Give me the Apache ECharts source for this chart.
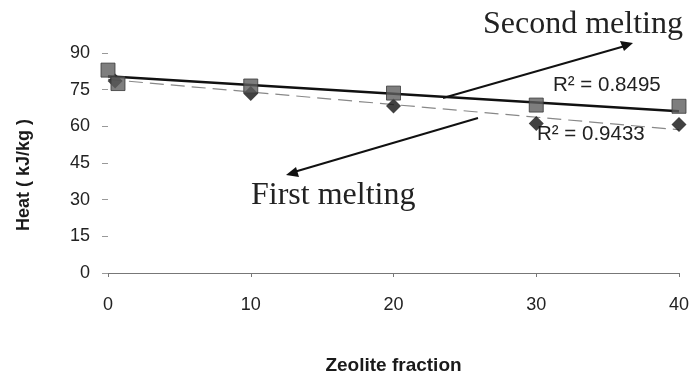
<!DOCTYPE html>
<html>
<head>
<meta charset="utf-8">
<script src="https://cdn.jsdelivr.net/npm/echarts@6/dist/echarts.min.js"></script>
<style>html,body{margin:0;padding:0;background:#fff}#c{width:693px;height:376px}</style>
</head>
<body>
<div id="c"></div>
<script>
// Data
var secondX = [0, 0.7, 10, 20, 30, 40];
var secondY = [83, 77.5, 76.5, 73.6, 68.7, 68.2];
var firstX = [0.5, 10, 20, 30, 40];
var firstY = [78.5, 73.4, 68.3, 61.2, 60.8];
var trendX = [0, 40];
var trendSecond = [80.5, 66.2];
var trendFirst = [79.2, 58.6];
var xTicks = [0, 10, 20, 30, 40];
var yTicks = [0, 15, 30, 45, 60, 75, 90];
var r2Second = 'R² = 0.8495';
var r2First = 'R² = 0.9433';

function pairs(xs, ys) { return xs.map(function (x, i) { return [x, ys[i]]; }); }

var chart = echarts.init(document.getElementById('c'), null, {renderer: 'canvas'});
var sans = 'Liberation Sans, Arial, sans-serif';
var serif = 'Liberation Serif, Times New Roman, serif';

chart.setOption({
  animation: false,
  backgroundColor: '#fff',
  grid: {left: 108, right: 14, top: 53, bottom: 103, containLabel: false, outerBoundsMode: 'none'},
  xAxis: {
    type: 'value', min: xTicks[0], max: xTicks[xTicks.length - 1], interval: 10,
    name: 'Zeolite fraction', nameLocation: 'middle', nameGap: 83,
    nameTextStyle: {fontFamily: sans, fontWeight: 'bold', fontSize: 19, color: '#1a1a1a'},
    axisLine: {show: true, lineStyle: {color: '#777', width: 1}},
    axisTick: {show: true, length: 4, lineStyle: {color: '#777'}},
    axisLabel: {fontFamily: sans, fontSize: 18, color: '#222', margin: 23},
    splitLine: {show: false}
  },
  yAxis: {
    type: 'value', min: yTicks[0], max: yTicks[yTicks.length - 1], interval: 15,
    name: 'Heat ( kJ/kg )', nameLocation: 'middle', nameGap: 75, nameRotate: 90,
    nameTextStyle: {fontFamily: sans, fontWeight: 'bold', fontSize: 18, color: '#1a1a1a', padding: [0, 24, 0, 0]},
    axisLine: {show: false},
    axisTick: {show: true, length: 6, lineStyle: {color: '#999'}},
    axisLabel: {fontFamily: sans, fontSize: 18, color: '#222', margin: 18},
    splitLine: {show: false}
  },
  series: [
    {
      name: 'First trend', type: 'line', data: pairs(trendX, trendFirst),
      showSymbol: false, silent: true, z: 2,
      lineStyle: {color: '#888', width: 1.2, type: [14, 7]}
    },
    {
      name: 'Second trend', type: 'line', data: pairs(trendX, trendSecond),
      showSymbol: false, silent: true, z: 3,
      lineStyle: {color: '#111', width: 2.5}
    },
    {
      name: 'First melting', type: 'scatter', data: pairs(firstX, firstY),
      symbol: 'diamond', symbolSize: [15, 15], z: 4,
      itemStyle: {color: '#111'}
    },
    {
      name: 'Second melting', type: 'scatter', data: pairs(secondX, secondY),
      symbol: 'rect', symbolSize: 14, z: 5,
      itemStyle: {color: '#5e5e5e', borderColor: '#3a3a3a', borderWidth: 1}
    }
  ],
  graphic: [
    {type: 'text', left: 483, top: 9, style: {text: 'Second melting', font: '32px ' + serif, fill: '#222'}},
    {type: 'text', left: 251, top: 180, style: {text: 'First melting', font: '32px ' + serif, fill: '#222'}},
    {type: 'text', left: 553, top: 75, style: {text: r2Second, font: '20.5px ' + sans, fill: '#222'}},
    {type: 'text', left: 537, top: 124, style: {text: r2First, font: '20.5px ' + sans, fill: '#222'}},
    {type: 'line', shape: {x1: 443, y1: 98, x2: 625, y2: 46}, style: {stroke: '#111', lineWidth: 2}},
    {type: 'polygon', shape: {points: [[633, 43], [620, 41], [624, 51]]}, style: {fill: '#111'}},
    {type: 'line', shape: {x1: 478, y1: 118, x2: 294, y2: 172}, style: {stroke: '#111', lineWidth: 2}},
    {type: 'polygon', shape: {points: [[286, 175], [296, 167], [299, 177]]}, style: {fill: '#111'}}
  ]
});
</script>
</body>
</html>
